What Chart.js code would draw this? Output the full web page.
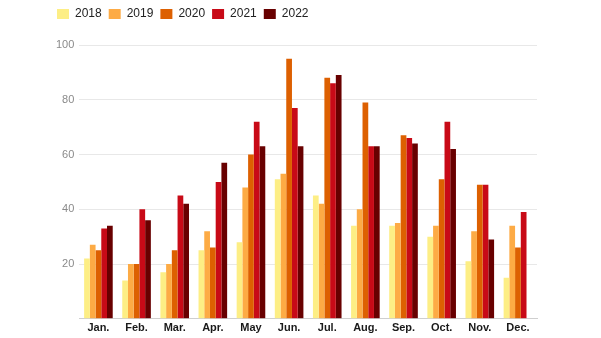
<!DOCTYPE html>
<html>
<head>
<meta charset="utf-8">
<script src="https://cdn.jsdelivr.net/npm/chart.js@4"></script>
<style>
  html, body { margin: 0; padding: 0; background: #fff; }
  #wrap { width: 601px; height: 338px; }
</style>
</head>
<body>
<div id="wrap"><canvas id="chart"></canvas></div>
<script>
const months = ['Jan.', 'Feb.', 'Mar.', 'Apr.', 'May', 'Jun.', 'Jul.', 'Aug.', 'Sep.', 'Oct.', 'Nov.', 'Dec.'];
const years = ['2018', '2019', '2020', '2021', '2022'];
const colors = ['#fdee85', '#fdab45', '#dd6001', '#c80a17', '#680000'];

const v2018 = [22, 14, 17, 25, 28, 51, 45, 34, 34, 30, 21, 15];
const v2019 = [27, 20, 20, 32, 48, 53, 42, 40, 35, 34, 32, 34];
const v2020 = [25, 20, 25, 26, 60, 95, 88, 79, 67, 51, 49, 26];
const v2021 = [33, 40, 45, 50, 72, 77, 86, 63, 66, 72, 49, 39];
const v2022 = [34, 36, 42, 57, 63, 63, 89, 63, 64, 62, 29, null];

const yTicks = [0, 20, 40, 60, 80, 100];

const series = [v2018, v2019, v2020, v2021, v2022];

// push the plot down below the legend
const legendGap = {
    id: 'legendGap',
    beforeInit(chart) {
        const fit = chart.legend.fit;
        chart.legend.fit = function() {
            fit.bind(chart.legend)();
            this.height = 44;
        };
    }
};

new Chart(document.getElementById('chart'), {
    type: 'bar',
    data: {
        labels: months,
        datasets: series.map((values, i) => ({
            label: years[i],
            data: values,
            backgroundColor: colors[i],
            borderWidth: 0,
            categoryPercentage: 0.75,
            barPercentage: 1.0
        }))
    },
    plugins: [legendGap],
    options: {
        responsive: true,
        maintainAspectRatio: false,
        animation: false,
        layout: { padding: { left: 50, right: 64, top: 1, bottom: 0 } },
        plugins: {
            legend: {
                position: 'top',
                align: 'start',
                labels: {
                    boxWidth: 12,
                    boxHeight: 10,
                    padding: 7,
                    color: '#222',
                    font: { family: 'Liberation Sans', size: 12 }
                }
            },
            tooltip: { enabled: false }
        },
        scales: {
            x: {
                grid: { display: false, drawTicks: false },
                border: { color: '#cfcfcf', width: 1 },
                ticks: {
                    color: '#1a1a1a',
                    padding: 3,
                    font: { family: 'Liberation Sans', size: 11, weight: 'bold' }
                }
            },
            y: {
                min: 0,
                max: 100,
                afterBuildTicks: (axis) => { axis.ticks = yTicks.map((value) => ({ value })); },
                afterFit: (axis) => { axis.width += 1; },
                grid: { color: '#e8e8e8', drawTicks: false },
                border: { display: false },
                ticks: {
                    color: '#8a8a8a',
                    padding: 5,
                    callback: (value) => value === 0 ? '' : value,
                    font: { family: 'Liberation Sans', size: 11 }
                }
            }
        }
    }
});
</script>
</body>
</html>
